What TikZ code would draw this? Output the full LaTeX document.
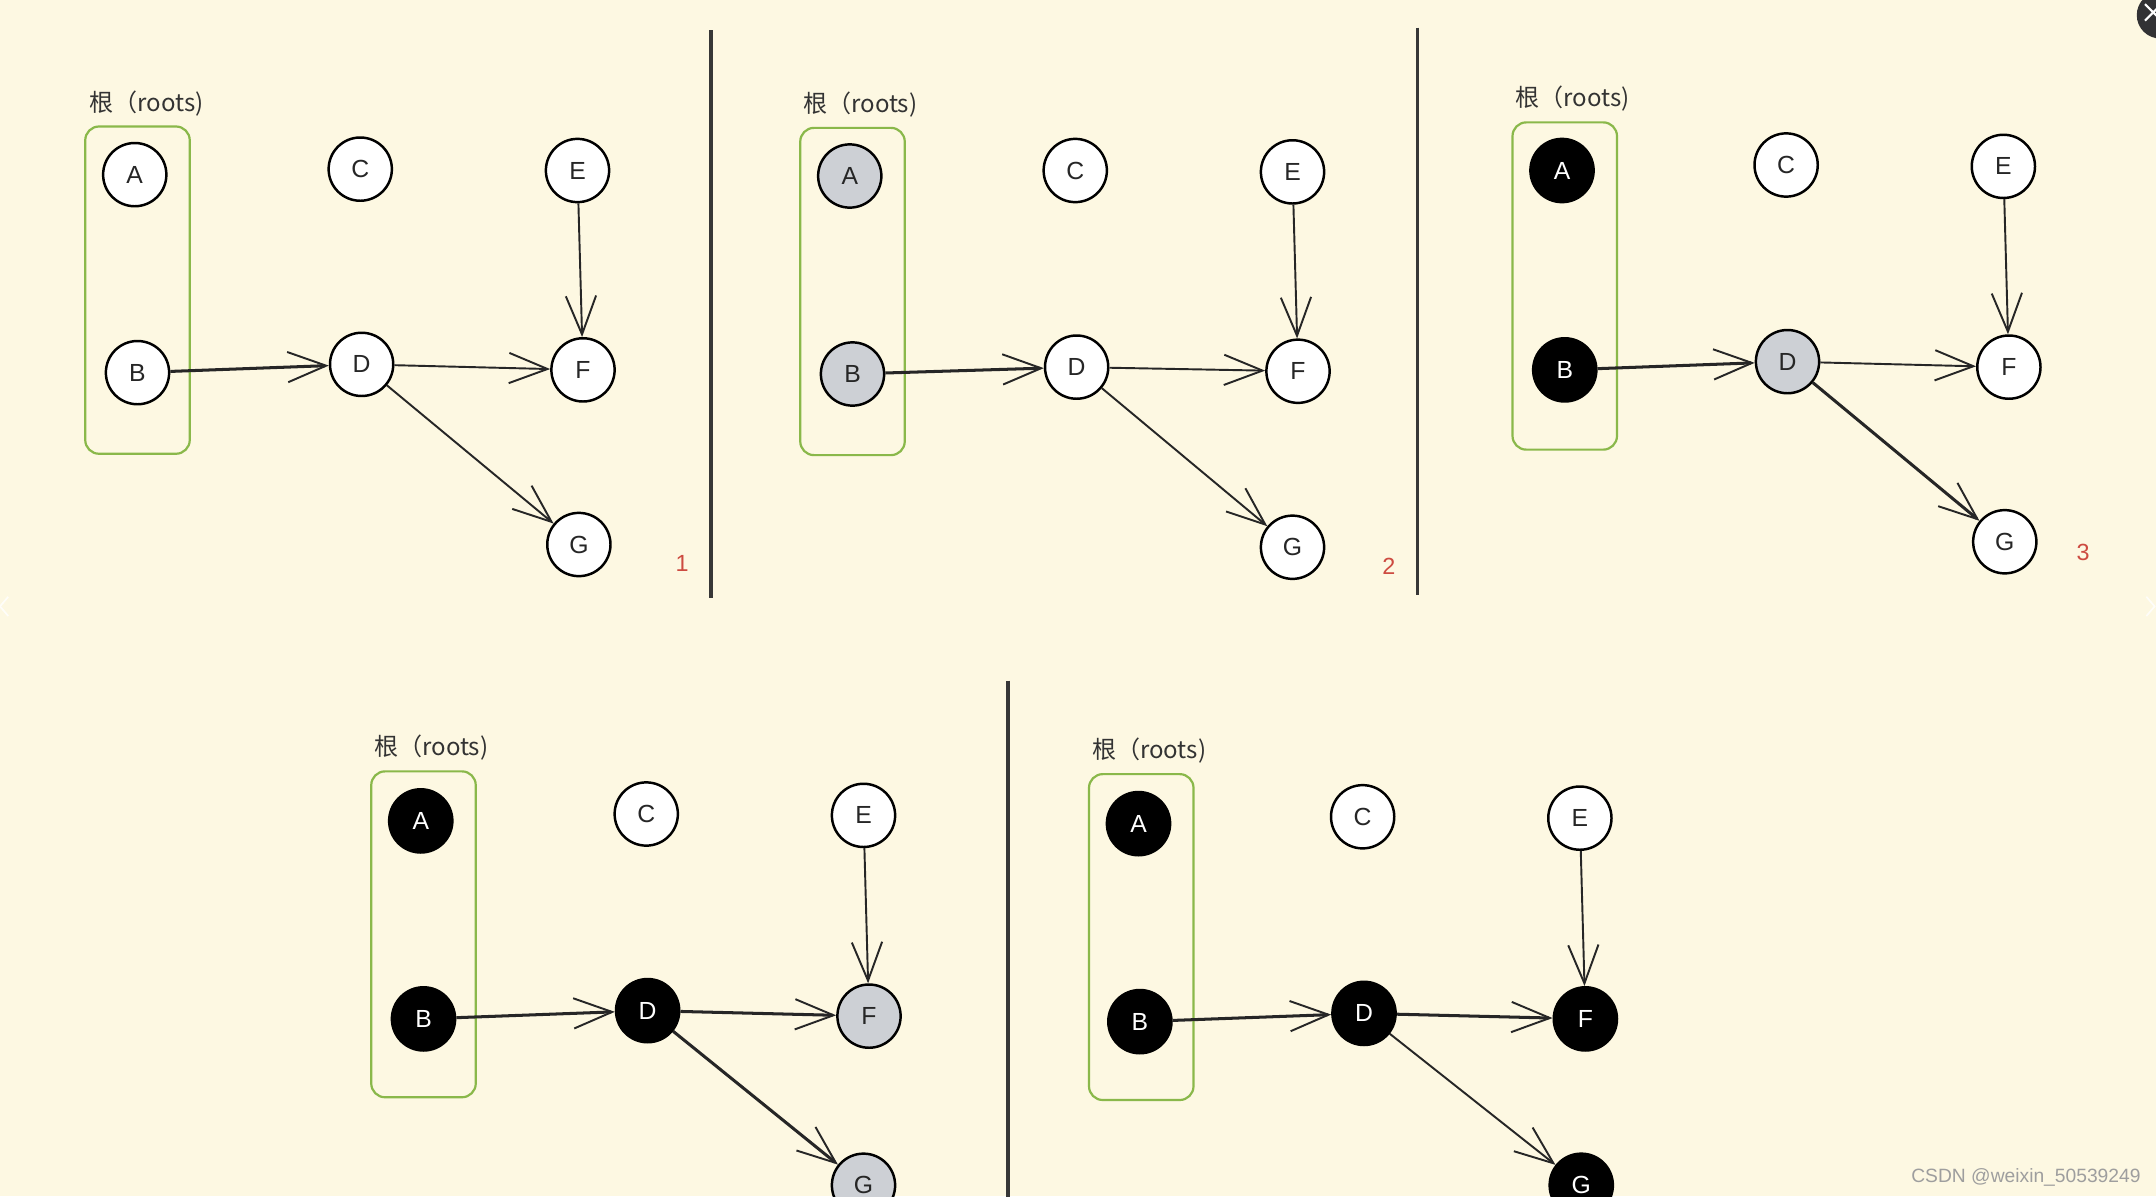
\documentclass[tikz,border=0pt]{standalone}
\usepackage{fontspec}
\setmainfont{Liberation Sans}
\newfontfamily\cjk{Noto Sans CJK SC}
\usetikzlibrary{arrows.meta}
\definecolor{bgc}{RGB}{253,248,226}
\definecolor{grayfill}{RGB}{205,208,213}
\definecolor{boxgreen}{RGB}{138,184,74}
\definecolor{numred}{RGB}{205,75,65}
\definecolor{sepgray}{RGB}{55,55,55}
\definecolor{closebtn}{RGB}{50,50,52}
\tikzset{
  nd/.style={circle, draw=black, line width=1.8pt, minimum size=46pt, inner sep=0pt,
             font=\fontsize{18}{18}\selectfont, fill=white, text=black!85},
  gnd/.style={nd, fill=grayfill},
  bnd/.style={nd, fill=black, text=white},
  edge/.style={draw=black!85, line width=1.4pt,
               -{Straight Barb[length=28pt,width=22pt,line width=1.4pt]}},
  bedge/.style={edge, line width=2.2pt},
  rootbox/.style={draw=boxgreen, line width=1.6pt, rounded corners=10pt},
  rootlbl/.style={anchor=west, inner sep=0pt, font=\cjk\fontsize{17.5}{17.5}\selectfont, text=black!80},
  num/.style={text=numred, font=\fontsize{17}{17}\selectfont},
  sep/.style={draw=sepgray, line width=2.4pt},
  wmark/.style={anchor=east, inner sep=0pt, text=black!38, font=\fontsize{14}{14}\selectfont}
}
\begin{document}
\begin{tikzpicture}[x=1pt,y=-1pt]
\fill[bgc] (0,0) rectangle (1568,870);
\clip (0,0) rectangle (1568,870);

% separators
\draw[sep] (517,22) -- (517,435);
\draw[sep] (1031,20) -- (1031,433);
\draw[sep] (733,495) -- (733,872);

% ---------- panel 1 ----------
\node[rootlbl] (p1l) at (65,75) {根（roots)};
\draw[rootbox] (62,92) rectangle (138,330);
\node[nd] (p1A) at (98,127) {A};
\node[nd] (p1B) at (100,271) {B};
\node[nd] (p1C) at (262,123) {C};
\node[nd] (p1D) at (263,265) {D};
\node[nd] (p1E) at (420,124) {E};
\node[nd] (p1F) at (424,269) {F};
\node[nd] (p1G) at (421,396) {G};
\draw[bedge] (p1B) -- (p1D);
\draw[edge] (p1D) -- (p1F);
\draw[edge] (p1E) -- (p1F);
\draw[edge] (p1D) -- (p1G);
\node[num] (p1n) at (496,410) {1};

% ---------- panel 2 ----------
\node[rootlbl] (p2l) at (584,76) {根（roots)};
\draw[rootbox] (582,93) rectangle (658,331);
\node[gnd] (p2A) at (618,128) {A};
\node[gnd] (p2B) at (620,272) {B};
\node[nd] (p2C) at (782,124) {C};
\node[nd] (p2D) at (783,267) {D};
\node[nd] (p2E) at (940,125) {E};
\node[nd] (p2F) at (944,270) {F};
\node[nd] (p2G) at (940,398) {G};
\draw[bedge] (p2B) -- (p2D);
\draw[edge] (p2D) -- (p2F);
\draw[edge] (p2E) -- (p2F);
\draw[edge] (p2D) -- (p2G);
\node[num] (p2n) at (1010,412) {2};

% ---------- panel 3 ----------
\node[rootlbl] (p3l) at (1102,72) {根（roots)};
\draw[rootbox] (1100,89) rectangle (1176,327);
\node[bnd] (p3A) at (1136,124) {A};
\node[bnd] (p3B) at (1138,269) {B};
\node[nd] (p3C) at (1299,120) {C};
\node[gnd] (p3D) at (1300,263) {D};
\node[nd] (p3E) at (1457,121) {E};
\node[nd] (p3F) at (1461,267) {F};
\node[nd] (p3G) at (1458,394) {G};
\draw[bedge] (p3B) -- (p3D);
\draw[edge] (p3D) -- (p3F);
\draw[edge] (p3E) -- (p3F);
\draw[bedge] (p3D) -- (p3G);
\node[num] (p3n) at (1515,402) {3};

% ---------- panel 4 ----------
\node[rootlbl] (p4l) at (272,544) {根（roots)};
\draw[rootbox] (270,561) rectangle (346,798);
\node[bnd] (p4A) at (306,597) {A};
\node[bnd] (p4B) at (308,741) {B};
\node[nd] (p4C) at (470,592) {C};
\node[bnd] (p4D) at (471,735) {D};
\node[nd] (p4E) at (628,593) {E};
\node[gnd] (p4F) at (632,739) {F};
\node[gnd] (p4G) at (628,862) {G};
\draw[bedge] (p4B) -- (p4D);
\draw[bedge] (p4D) -- (p4F);
\draw[edge] (p4E) -- (p4F);
\draw[bedge] (p4D) -- (p4G);

% ---------- panel 5 ----------
\node[rootlbl] (p5l) at (794,546) {根（roots)};
\draw[rootbox] (792,563) rectangle (868,800);
\node[bnd] (p5A) at (828,599) {A};
\node[bnd] (p5B) at (829,743) {B};
\node[nd] (p5C) at (991,594) {C};
\node[bnd] (p5D) at (992,737) {D};
\node[nd] (p5E) at (1149,595) {E};
\node[bnd] (p5F) at (1153,741) {F};
\node[bnd] (p5G) at (1150,862) {G};
\draw[bedge] (p5B) -- (p5D);
\draw[bedge] (p5D) -- (p5F);
\draw[edge] (p5E) -- (p5F);
\draw[edge] (p5D) -- (p5G);

% watermark
\node[wmark] (wm) at (1557,856) {CSDN @weixin\_50539249};

% viewer overlay: close button and side chevrons
\fill[closebtn] (1571,11) circle (17);
\draw[white, line width=1.6pt] (1560,3) -- (1572,15) (1560,15) -- (1572,3);
\draw[white, line width=1.2pt, opacity=0.8] (1561,434) -- (1567,441) -- (1561,448);
\draw[white, line width=1.2pt, opacity=0.8] (6,434) -- (0,441) -- (6,448);
\end{tikzpicture}
\end{document}
